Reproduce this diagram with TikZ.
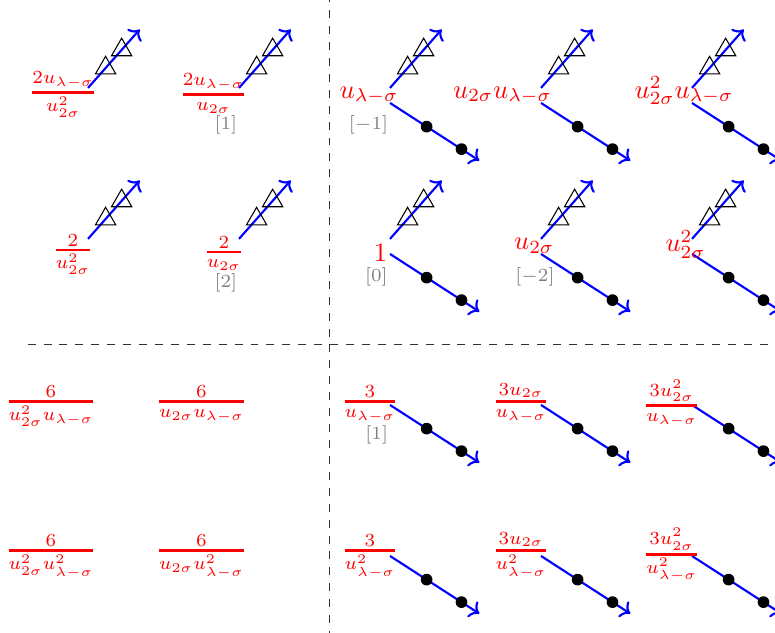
\documentclass[tikz,border=0pt]{standalone}
\usepackage{amssymb,amsmath}
\usetikzlibrary{shapes.geometric,positioning,arrows.meta}

\newcommand{\barfrac}[2]{\genfrac{}{}{1pt}{1}{#1}{#2}}

\begin{document}
\begin{tikzpicture}[
    ray/.style={blue,thick,->},
    lbl/.style={red,anchor=base},
    tag/.style={gray,font=\scriptsize},
    tri/.style={draw=black,thin,regular polygon,regular polygon sides=3,inner sep=0pt,minimum size=0.31cm},
    dot/.style={circle,fill=black,inner sep=0pt,minimum size=0.155cm}]

    \useasboundingbox (-5.166,-3.02) rectangle (5.099,5.364);
    \clip (-5.166,-3.02) rectangle (5.099,5.364);

    % quadrant lines
    \draw[dashed,black!80] (-0.8,-3.1) -- (-0.8,5.4);
    \draw[dashed,black!80] (-4.8,0.8) -- (5.2,0.8);

    % vertices
    \coordinate (v11) at (-4,4);
    \coordinate (v12) at (-2,4);
    \coordinate (v13) at (0,4);
    \coordinate (v14) at (2,4);
    \coordinate (v15) at (4,4);
    \coordinate (v21) at (-4,2);
    \coordinate (v22) at (-2,2);
    \coordinate (v23) at (0,2);
    \coordinate (v24) at (2,2);
    \coordinate (v25) at (4,2);
    \coordinate (v33) at (0,0);
    \coordinate (v34) at (2,0);
    \coordinate (v35) at (4,0);
    \coordinate (v43) at (0,-2);
    \coordinate (v44) at (2,-2);
    \coordinate (v45) at (4,-2);

    % arrows going up
    \draw[ray] ([yshift=2mm]v11) -- node[tri,pos=.34] (t11a) {} node[tri,pos=.65] (t11b) {} ++(0.685,0.774) coordinate (n11);
    \draw[ray] ([yshift=2mm]v12) -- node[tri,pos=.34] (t12a) {} node[tri,pos=.65] (t12b) {} ++(0.685,0.774) coordinate (n12);
    \draw[ray] ([yshift=2mm]v13) -- node[tri,pos=.34] (t13a) {} node[tri,pos=.65] (t13b) {} ++(0.685,0.774) coordinate (n13);
    \draw[ray] ([yshift=2mm]v14) -- node[tri,pos=.34] (t14a) {} node[tri,pos=.65] (t14b) {} ++(0.685,0.774) coordinate (n14);
    \draw[ray] ([yshift=2mm]v15) -- node[tri,pos=.34] (t15a) {} node[tri,pos=.65] (t15b) {} ++(0.685,0.774) coordinate (n15);
    \draw[ray] ([yshift=2mm]v21) -- node[tri,pos=.34] (t21a) {} node[tri,pos=.65] (t21b) {} ++(0.685,0.774) coordinate (n21);
    \draw[ray] ([yshift=2mm]v22) -- node[tri,pos=.34] (t22a) {} node[tri,pos=.65] (t22b) {} ++(0.685,0.774) coordinate (n22);
    \draw[ray] ([yshift=2mm]v23) -- node[tri,pos=.34] (t23a) {} node[tri,pos=.65] (t23b) {} ++(0.685,0.774) coordinate (n23);
    \draw[ray] ([yshift=2mm]v24) -- node[tri,pos=.34] (t24a) {} node[tri,pos=.65] (t24b) {} ++(0.685,0.774) coordinate (n24);
    \draw[ray] ([yshift=2mm]v25) -- node[tri,pos=.34] (t25a) {} node[tri,pos=.65] (t25b) {} ++(0.685,0.774) coordinate (n25);

    % arrows going down
    \draw[ray] (v13) -- node[dot,pos=.41] (d13a) {} node[dot,pos=.8] (d13b) {} ++(1.183,-0.764) coordinate (s13);
    \draw[ray] (v14) -- node[dot,pos=.41] (d14a) {} node[dot,pos=.8] (d14b) {} ++(1.183,-0.764) coordinate (s14);
    \draw[ray] (v15) -- node[dot,pos=.41] (d15a) {} node[dot,pos=.8] (d15b) {} ++(1.183,-0.764) coordinate (s15);
    \draw[ray] (v23) -- node[dot,pos=.41] (d23a) {} node[dot,pos=.8] (d23b) {} ++(1.183,-0.764) coordinate (s23);
    \draw[ray] (v24) -- node[dot,pos=.41] (d24a) {} node[dot,pos=.8] (d24b) {} ++(1.183,-0.764) coordinate (s24);
    \draw[ray] (v25) -- node[dot,pos=.41] (d25a) {} node[dot,pos=.8] (d25b) {} ++(1.183,-0.764) coordinate (s25);
    \draw[ray] (v33) -- node[dot,pos=.41] (d33a) {} node[dot,pos=.8] (d33b) {} ++(1.183,-0.764) coordinate (s33);
    \draw[ray] (v34) -- node[dot,pos=.41] (d34a) {} node[dot,pos=.8] (d34b) {} ++(1.183,-0.764) coordinate (s34);
    \draw[ray] (v35) -- node[dot,pos=.41] (d35a) {} node[dot,pos=.8] (d35b) {} ++(1.183,-0.764) coordinate (s35);
    \draw[ray] (v43) -- node[dot,pos=.41] (d43a) {} node[dot,pos=.8] (d43b) {} ++(1.183,-0.764) coordinate (s43);
    \draw[ray] (v44) -- node[dot,pos=.41] (d44a) {} node[dot,pos=.8] (d44b) {} ++(1.183,-0.764) coordinate (s44);
    \draw[ray] (v45) -- node[dot,pos=.41] (d45a) {} node[dot,pos=.8] (d45b) {} ++(1.183,-0.764) coordinate (s45);

    % labels, top left
    \node[lbl] (f11) at (-4.33,4.048) {$\barfrac{2u_{\lambda-\sigma}}{u^2_{2\sigma}}$};
    \node[lbl] (f12) at (-2.338,4.022) {$\barfrac{2u_{\lambda-\sigma}}{u_{2\sigma}}$};
    \node[lbl] (f21) at (-4.199,1.965) {$\barfrac{2}{u^2_{2\sigma}}$};
    \node[lbl] (f22) at (-2.199,1.938) {$\barfrac{2}{u_{2\sigma}}$};

    % labels, top right
    \node[lbl] (l13) at (-0.278,4.066) {$u_{\lambda-\sigma}$};
    \node[lbl] (l14) at (1.49,4.066) {$u_{2\sigma}u_{\lambda-\sigma}$};
    \node[lbl] (l15) at (3.894,4.066) {$u^2_{2\sigma}u_{\lambda-\sigma}$};
    \node[lbl] (l23) at (-0.126,1.898) {$1$};
    \node[lbl] (l24) at (1.91,2.053) {$u_{2\sigma}$};
    \node[lbl] (l25) at (3.914,2.03) {$u^2_{2\sigma}$};

    % labels, bottom left
    \node[lbl] (f31) at (-4.49,-0.044) {$\barfrac{6}{u^2_{2\sigma}u_{\lambda-\sigma}}$};
    \node[lbl] (f32) at (-2.497,-0.044) {$\barfrac{6}{u_{2\sigma}u_{\lambda-\sigma}}$};
    \node[lbl] (f41) at (-4.49,-2.018) {$\barfrac{6}{u^2_{2\sigma}u^2_{\lambda-\sigma}}$};
    \node[lbl] (f42) at (-2.497,-2.018) {$\barfrac{6}{u_{2\sigma}u^2_{\lambda-\sigma}}$};

    % labels, bottom right
    \node[lbl] (f33) at (-0.265,-0.044) {$\barfrac{3}{u_{\lambda-\sigma}}$};
    \node[lbl] (f34) at (1.735,-0.044) {$\barfrac{3u_{2\sigma}}{u_{\lambda-\sigma}}$};
    \node[lbl] (f35) at (3.73,-0.097) {$\barfrac{3u^2_{2\sigma}}{u_{\lambda-\sigma}}$};
    \node[lbl] (f43) at (-0.265,-2.018) {$\barfrac{3}{u^2_{\lambda-\sigma}}$};
    \node[lbl] (f44) at (1.735,-2.018) {$\barfrac{3u_{2\sigma}}{u^2_{\lambda-\sigma}}$};
    \node[lbl] (f45) at (3.73,-2.065) {$\barfrac{3u^2_{2\sigma}}{u^2_{\lambda-\sigma}}$};

    % degrees
    \node[tag] (g12) at (-2.175,3.709) {$[1]$};
    \node[tag] (g13) at (-0.285,3.709) {$[-1]$};
    \node[tag] (g22) at (-2.175,1.616) {$[2]$};
    \node[tag] (g23) at (-0.18,1.695) {$[0]$};
    \node[tag] (g24) at (1.92,1.695) {$[-2]$};
    \node[tag] (g33) at (-0.176,-0.397) {$[1]$};

\end{tikzpicture}
\end{document}
